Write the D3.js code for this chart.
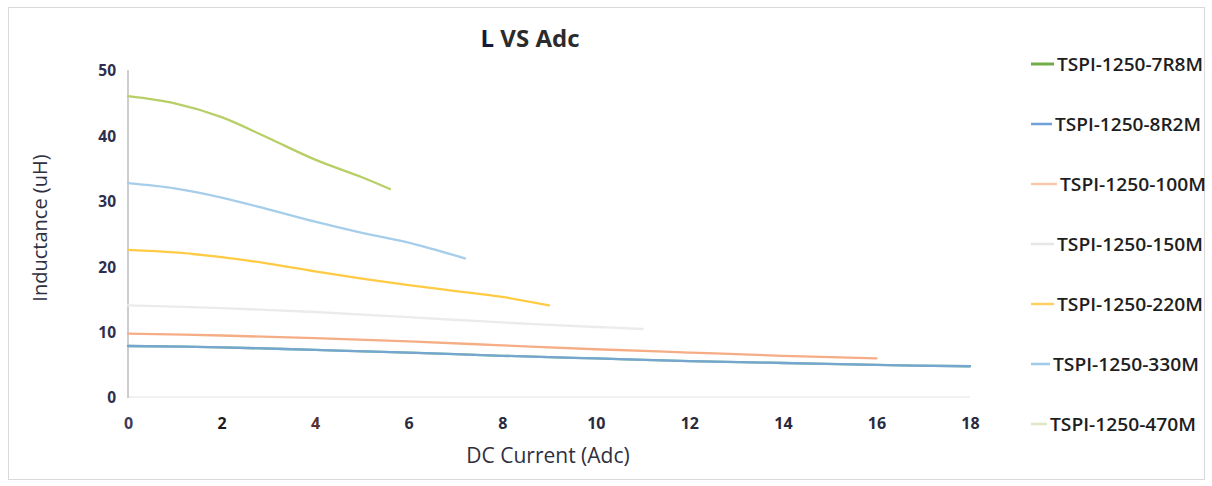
<!DOCTYPE html>
<html><head><meta charset="utf-8">
<script src="https://cdn.jsdelivr.net/npm/d3@7"></script>
<style>body{margin:0;background:#fff;} svg{display:block;}</style>
</head><body>
<svg id="c" width="1212" height="486"></svg>
<script>
// ---- data ----
const seriesNames = ["TSPI-1250-7R8M","TSPI-1250-8R2M","TSPI-1250-100M","TSPI-1250-150M","TSPI-1250-220M","TSPI-1250-330M","TSPI-1250-470M"];
const s7R8M = [[0,7.8],[2,7.6],[4,7.2],[6,6.8],[8,6.3],[10,5.9],[12,5.5],[14,5.2],[16,4.9],[18,4.7]];
const s8R2M = [[0,7.8],[2,7.6],[4,7.2],[6,6.8],[8,6.3],[10,5.9],[12,5.5],[14,5.2],[16,4.9],[18,4.7]];
const s100M = [[0,9.7],[2,9.4],[4,9.0],[6,8.5],[8,7.9],[10,7.3],[12,6.8],[14,6.3],[16,5.9]];
const s150M = [[0,14.0],[2,13.6],[4,13.0],[6,12.2],[8,11.4],[10,10.7],[11,10.4]];
const s220M = [[0,22.5],[1,22.1],[2,21.4],[3,20.4],[4,19.2],[5,18.1],[6,17.1],[7,16.2],[8,15.3],[9,14.0]];
const s330M = [[0,32.7],[1,31.9],[2,30.5],[3,28.7],[4,26.8],[5,25.1],[6,23.6],[7.2,21.2]];
const s470M = [[0,46.0],[1,44.9],[2,42.8],[3,39.6],[4,36.3],[5,33.6],[5.6,31.8]];
const seriesValues = [s7R8M,s8R2M,s100M,s150M,s220M,s330M,s470M];
const xTicks = [0,2,4,6,8,10,12,14,16,18];
const yTicks = [0,10,20,30,40,50];

// ---- styles ----
const lineColors   = ["#7fbf8a","#75a6d2","#f5ad85","#ebebeb","#ffcb45","#a6cdea","#b7cf66"];
const legendColors = ["#70ad47","#6fa1d8","#f8c9a8","#e6e6e6","#ffd060","#9ecbeb","#dde7c4"];

const svg = d3.select("#c");
svg.append("rect").attr("x",8.5).attr("y",7.5).attr("width",1196).attr("height",472)
  .attr("fill","#fff").attr("stroke","#d9d9d9");

const x = d3.scaleLinear().domain([0,18]).range([128,970]);
const y = d3.scaleLinear().domain([0,50]).range([397,70]);

// axes lines
svg.append("line").attr("x1",x(0)).attr("x2",x(18)).attr("y1",y(0)).attr("y2",y(0))
  .attr("stroke","#ececec").attr("stroke-width",1.5);
svg.append("line").attr("x1",x(0)).attr("x2",x(0)).attr("y1",y(50)).attr("y2",y(0)+1)
  .attr("stroke","#bdbdbd").attr("stroke-width",1.5);

const font = "'Open Sans', 'DejaVu Sans', sans-serif";
const xCol = {0:"#3c3c5a",2:"#1a1a1a",4:"#5b3030"};
const xAxis = d3.axisBottom(x).tickValues(xTicks).tickSize(0).tickPadding(0);
const gx = svg.append("g").attr("transform",`translate(0,${y(0)+26})`).call(xAxis);
gx.select(".domain").remove();
gx.selectAll("text").attr("font-family",font).attr("font-weight","bold").attr("font-size",16)
  .attr("fill",d=>xCol[d]||"#2a2a3e").attr("dy","0.35em");

const yAxis = d3.axisLeft(y).tickValues(yTicks).tickSize(0).tickPadding(0);
const gy = svg.append("g").attr("transform",`translate(${x(0)-12},1)`).call(yAxis);
gy.select(".domain").remove();
gy.selectAll("text").attr("font-family",font).attr("font-weight","bold").attr("font-size",15.5)
  .attr("fill","#2e2e4f");

// lines
const line = d3.line().x(d=>x(d[0])).y(d=>y(d[1])).curve(d3.curveCatmullRom.alpha(0.5));
seriesValues.forEach((s,i)=>{
  svg.append("path").datum(s).attr("d",line).attr("fill","none")
    .attr("stroke",lineColors[i]).attr("stroke-width",2.3).attr("stroke-linecap","round");
});

// titles
const t = svg.append("text").attr("x",530).attr("y",47).attr("text-anchor","middle")
  .attr("font-family",font).attr("font-weight","bold").attr("font-size",24).attr("fill","#2b2b2b");
t.append("tspan").attr("fill","#141a3c").text("L");
t.append("tspan").text(" VS Adc");
svg.append("text").attr("x",548).attr("y",463).attr("text-anchor","middle")
  .attr("font-family",font).attr("font-size",21).attr("fill","#2f2f3f")
  .text("DC Current (Adc)");
svg.append("text").attr("transform","translate(47,228) rotate(-90)").attr("text-anchor","middle")
  .attr("font-family",font).attr("font-size",20).attr("fill","#2f2f3f")
  .text("Inductance (uH)");

// legend
const lg = svg.append("g");
const txtX = [1057,1055,1060,1057,1057,1053,1050];
seriesNames.forEach((n,i)=>{
  const yy = 64 + i*60;
  lg.append("line").attr("x1",1031).attr("x2",txtX[i]-3).attr("y1",yy).attr("y2",yy)
    .attr("stroke",legendColors[i]).attr("stroke-width",i===0?3:2.5);
  lg.append("text").attr("x",txtX[i]).attr("y",yy).attr("dy","0.36em")
    .attr("font-family",font).attr("font-weight","600").attr("font-size",18.5).attr("fill","#1e1e1e")
    .attr("textLength",146).attr("lengthAdjust","spacingAndGlyphs")
    .text(n);
});
</script>
</body></html>
